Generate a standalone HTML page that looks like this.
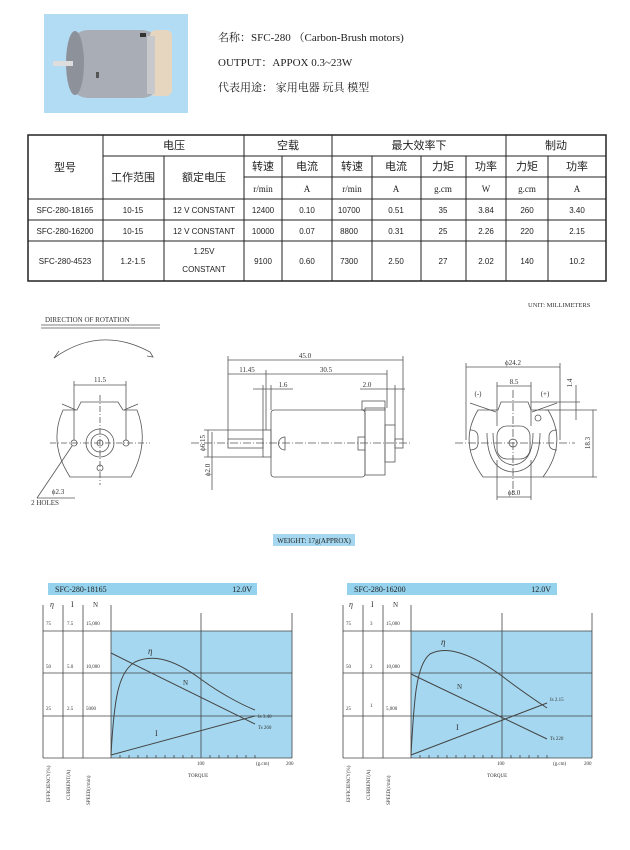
<!DOCTYPE html>
<html><head><meta charset="utf-8"><style>
html,body{margin:0;padding:0;background:#fff}
svg{display:block}
.s{font-family:"Liberation Serif","Noto Serif CJK SC",serif}
.a{font-family:"Liberation Sans","Noto Sans CJK SC",sans-serif}
</style></head><body>
<svg width="630" height="850" viewBox="0 0 630 850" xmlns="http://www.w3.org/2000/svg">
<!-- photo -->
<rect x="44" y="14" width="144" height="99" fill="#b2dcf3"/>
<rect x="70" y="30" width="90" height="68" rx="18" fill="#a9adb6"/>
<ellipse cx="75" cy="63" rx="9" ry="32" fill="#8d919a"/>
<rect x="150" y="30" width="22" height="66" rx="6" fill="#e6d6bf"/>
<rect x="147" y="36" width="8" height="58" fill="#c8c9cc"/>
<rect x="53" y="61" width="20" height="5" fill="#ddd"/>
<rect x="140" y="33" width="6" height="4" fill="#333"/>
<rect x="96" y="72" width="3" height="6" fill="#555"/>
<g class="s" font-size="11" fill="#222">
<text x="218" y="41">名称：SFC-280 （Carbon-Brush motors)</text>
<text x="218" y="66">OUTPUT：APPOX 0.3~23W</text>
<text x="218" y="91">代表用途：  家用电器 玩具 模型</text>
</g>
<!-- table -->
<g stroke="#222" stroke-width="1" fill="none">
<rect x="28" y="135" width="578" height="146" stroke-width="1.5"/>
<line x1="103" y1="156" x2="606" y2="156"/>
<line x1="244" y1="177" x2="606" y2="177"/>
<line x1="28" y1="199" x2="606" y2="199"/>
<line x1="28" y1="220" x2="606" y2="220"/>
<line x1="28" y1="241" x2="606" y2="241"/>
<line x1="103" y1="135" x2="103" y2="281"/>
<line x1="164" y1="156" x2="164" y2="281"/>
<line x1="244" y1="135" x2="244" y2="281"/>
<line x1="282" y1="156" x2="282" y2="281"/>
<line x1="332" y1="135" x2="332" y2="281"/>
<line x1="372" y1="156" x2="372" y2="281"/>
<line x1="421" y1="156" x2="421" y2="281"/>
<line x1="466" y1="156" x2="466" y2="281"/>
<line x1="506" y1="135" x2="506" y2="281"/>
<line x1="548" y1="156" x2="548" y2="281"/>
</g>
<g class="a" font-size="11" fill="#222" text-anchor="middle">
<text x="65" y="171">型号</text>
<text x="174" y="149">电压</text>
<text x="288" y="149">空载</text>
<text x="419" y="149">最大效率下</text>
<text x="556" y="149">制动</text>
<text x="133" y="181">工作范围</text>
<text x="204" y="181">额定电压</text>
<text x="263" y="170">转速</text><text x="307" y="170">电流</text>
<text x="352" y="170">转速</text><text x="396" y="170">电流</text>
<text x="443" y="170">力矩</text><text x="486" y="170">功率</text>
<text x="527" y="170">力矩</text><text x="577" y="170">功率</text>
</g>
<g class="s" font-size="9" fill="#222" text-anchor="middle">
<text x="263" y="192">r/min</text><text x="307" y="192">A</text>
<text x="352" y="192">r/min</text><text x="396" y="192">A</text>
<text x="443" y="192">g.cm</text><text x="486" y="192">W</text>
<text x="527" y="192">g.cm</text><text x="577" y="192">A</text>
</g>
<g class="a" font-size="8" fill="#222" text-anchor="middle">
<text x="65" y="213">SFC-280-18165</text><text x="133" y="213">10-15</text><text x="204" y="213">12 V CONSTANT</text>
<text x="263" y="213">12400</text><text x="307" y="213">0.10</text><text x="349" y="213">10700</text><text x="396" y="213">0.51</text><text x="443" y="213">35</text><text x="486" y="213">3.84</text><text x="527" y="213">260</text><text x="577" y="213">3.40</text>
<text x="65" y="234">SFC-280-16200</text><text x="133" y="234">10-15</text><text x="204" y="234">12 V CONSTANT</text>
<text x="263" y="234">10000</text><text x="307" y="234">0.07</text><text x="349" y="234">8800</text><text x="396" y="234">0.31</text><text x="443" y="234">25</text><text x="486" y="234">2.26</text><text x="527" y="234">220</text><text x="577" y="234">2.15</text>
<text x="65" y="264">SFC-280-4523</text><text x="133" y="264">1.2-1.5</text><text x="204" y="254">1.25V</text><text x="204" y="272">CONSTANT</text>
<text x="263" y="264">9100</text><text x="307" y="264">0.60</text><text x="349" y="264">7300</text><text x="396" y="264">2.50</text><text x="443" y="264">27</text><text x="486" y="264">2.02</text><text x="527" y="264">140</text><text x="577" y="264">10.2</text>
</g>

<!-- drawing -->
<g class="s" font-size="6.5" fill="#333">
<text x="528" y="307">UNIT: MILLIMETERS</text>
<text x="45" y="322" font-size="7">DIRECTION OF ROTATION</text>
</g>
<g stroke="#555" stroke-width="0.8" fill="none">
<line x1="41" y1="325" x2="160" y2="325"/><line x1="41" y1="328" x2="160" y2="328"/>
<path d="M54 358 Q100 325 150 352"/><path d="M54 358 l5 -7 M150 352 l3 5 l-6 -1"/>
<!-- left view -->
<path d="M81 402 L118 402 L123 410 L137 410 Q150 443 131 477 L70 477 Q48 443 63 410 L77 410 Z"/>
<path d="M62 404 L76 410 M138 404 L124 410"/>
<circle cx="100" cy="443" r="14"/><circle cx="100" cy="443" r="9"/><circle cx="100" cy="443" r="3"/>
<circle cx="74" cy="443" r="3"/><circle cx="126" cy="443" r="3"/><circle cx="100" cy="468" r="3"/>
<line x1="50" y1="443" x2="150" y2="443" stroke-dasharray="6 2 1 2"/>
<line x1="100" y1="395" x2="100" y2="485" stroke-dasharray="6 2 1 2"/>
<line x1="74" y1="385" x2="126" y2="385"/><line x1="74" y1="381" x2="74" y2="440"/><line x1="126" y1="381" x2="126" y2="440"/>
<line x1="72" y1="446" x2="37" y2="498"/><line x1="37" y1="498" x2="75" y2="498"/>
<!-- middle view -->
<rect x="271" y="410" width="94" height="67" rx="3"/>
<rect x="365" y="408" width="20" height="67"/>
<rect x="362" y="401" width="23" height="9"/>
<rect x="263" y="430" width="8" height="27"/>
<rect x="228" y="439" width="35" height="9"/>
<rect x="385" y="425" width="10" height="37"/>
<rect x="395" y="439" width="8" height="9"/>
<rect x="358" y="437" width="7" height="13"/>
<path d="M285 437 a6 6 0 0 0 0 13 Z"/>
<line x1="191" y1="443" x2="410" y2="443" stroke-dasharray="8 2 1 2"/>
<line x1="228" y1="360" x2="403" y2="360"/><line x1="228" y1="356" x2="228" y2="440"/><line x1="403" y1="356" x2="403" y2="440"/>
<line x1="228" y1="374" x2="387" y2="374"/><line x1="266" y1="370" x2="266" y2="430"/><line x1="387" y1="370" x2="387" y2="408"/>
<line x1="253" y1="389" x2="293" y2="389"/><line x1="263" y1="385" x2="263" y2="430"/><line x1="271" y1="385" x2="271" y2="410"/>
<line x1="360" y1="389" x2="405" y2="389"/><line x1="395" y1="385" x2="395" y2="425"/>
<line x1="208" y1="430" x2="208" y2="457"/><line x1="204" y1="430" x2="263" y2="430"/><line x1="204" y1="457" x2="263" y2="457"/>
<line x1="212" y1="432" x2="212" y2="490"/>
<!-- right view -->
<path d="M501 402 L528 402 L531 410 L548 410 Q568 443 543 477 L483 477 Q458 443 478 410 L498 410 Z"/>
<path d="M470 403 L496 412 M557 403 L532 412"/>
<rect x="497" y="426" width="33" height="33" rx="10"/><circle cx="513" cy="443" r="4"/>
<path d="M487 433 Q487 470 513 472 Q540 470 540 433"/><path d="M493 433 Q493 463 513 465 Q533 463 533 433"/>
<path d="M470 430 q8 0 8 7 v6 q0 7 -8 7"/><path d="M557 430 q-8 0 -8 7 v6 q0 7 8 7"/>
<circle cx="538" cy="418" r="3"/>
<line x1="455" y1="443" x2="575" y2="443" stroke-dasharray="8 2 1 2"/>
<line x1="513" y1="390" x2="513" y2="495" stroke-dasharray="8 2 1 2"/>
<line x1="466" y1="367" x2="560" y2="367"/><line x1="466" y1="363" x2="466" y2="440"/><line x1="560" y1="363" x2="560" y2="440"/>
<line x1="497" y1="386" x2="531" y2="386"/><line x1="497" y1="382" x2="497" y2="426"/><line x1="531" y1="382" x2="531" y2="426"/>
<line x1="497" y1="497" x2="531" y2="497"/><line x1="497" y1="460" x2="497" y2="500"/><line x1="531" y1="460" x2="531" y2="500"/>
<line x1="576" y1="385" x2="576" y2="420"/><line x1="531" y1="402" x2="580" y2="402"/><line x1="545" y1="410" x2="597" y2="410"/>
<line x1="593" y1="410" x2="593" y2="477"/><line x1="543" y1="477" x2="597" y2="477"/>
</g>
<g class="s" font-size="7" fill="#333" text-anchor="middle">
<text x="100" y="382">11.5</text>
<text x="305" y="358">45.0</text>
<text x="247" y="372">11.45</text><text x="326" y="372">30.5</text>
<text x="283" y="387">1.6</text><text x="367" y="387">2.0</text>
<text x="513" y="365">ϕ24.2</text><text x="514" y="384">8.5</text>
<text x="478" y="396">(-)</text><text x="545" y="396">(+)</text>
<text x="514" y="495">ϕ8.0</text>
<text x="58" y="494">ϕ2.3</text><text x="45" y="505">2 HOLES</text>
<text transform="translate(205,443) rotate(-90)">ϕ6.15</text>
<text transform="translate(210,470) rotate(-90)">ϕ2.0</text>
<text transform="translate(572,383) rotate(-90)">1.4</text>
<text transform="translate(590,443) rotate(-90)">18.3</text>
</g>
<rect x="273" y="534" width="82" height="12" fill="#a5d8f0"/>
<text x="314" y="543" class="s" font-size="7" text-anchor="middle" fill="#222">WEIGHT: 17g(APPROX)</text>

<!-- chart 1 -->
<g>
<rect x="48" y="583" width="209" height="12" fill="#94d2ee"/>
<text x="55" y="592" class="s" font-size="8" fill="#222">SFC-280-18165</text>
<text x="252" y="592" class="s" font-size="8" fill="#222" text-anchor="end">12.0V</text>
<rect x="111" y="631" width="181" height="127" fill="#a5d8f0"/>
<g stroke="#444" stroke-width="0.8" fill="none">
<line x1="43" y1="605" x2="43" y2="758"/><line x1="63" y1="605" x2="63" y2="758"/><line x1="83" y1="605" x2="83" y2="758"/><line x1="111" y1="605" x2="111" y2="758"/>
<line x1="292" y1="613" x2="292" y2="758"/><line x1="201" y1="613" x2="201" y2="758"/>
<line x1="43" y1="631" x2="292" y2="631"/><line x1="43" y1="673" x2="292" y2="673"/><line x1="43" y1="716" x2="292" y2="716"/><line x1="43" y1="758" x2="292" y2="758"/>
<path d="M111 758 M120 758v-3M129 758v-3M138 758v-3M147 758v-3M156 758v-3M165 758v-3M174 758v-3M183 758v-3M192 758v-3M210 758v-3M219 758v-3M228 758v-3M237 758v-3M246 758v-3M255 758v-3"/>
<path d="M111 653 L255 724" stroke-width="1"/>
<path d="M111 755 L255 716" stroke-width="1"/>
<path d="M111 755 C114 700 118 672 135 662 C150 655 170 656 202 680 C220 693 240 704 255 710" stroke-width="1"/>
</g>
<g class="s" font-size="5" fill="#333">
<text x="50" y="607" font-size="8" font-style="italic">η</text><text x="71" y="607" font-size="8">I</text><text x="93" y="607" font-size="7">N</text>
<text x="46" y="625">75</text><text x="67" y="625">7.5</text><text x="86" y="625">15,000</text>
<text x="46" y="668">50</text><text x="67" y="668">5.0</text><text x="86" y="668">10,000</text>
<text x="46" y="710">25</text><text x="67" y="710">2.5</text><text x="86" y="710">5000</text>
<text x="148" y="654" font-size="9" font-style="italic">η</text><text x="183" y="685" font-size="7">N</text><text x="155" y="736" font-size="8">I</text>
<text x="258" y="718">Is 3.40</text><text x="258" y="729">Ts 260</text>
<text x="197" y="765">100</text><text x="256" y="765">(g.cm)</text><text x="286" y="765">200</text>
<text x="188" y="777">TORQUE</text>
<text transform="translate(50,802) rotate(-90)">EFFICIENCY(%)</text>
<text transform="translate(70,800) rotate(-90)">CURRENT(A)</text>
<text transform="translate(90,805) rotate(-90)">SPEED(r/min)</text>
</g>
</g>

<!-- chart 2 -->
<g>
<rect x="347" y="583" width="210" height="12" fill="#94d2ee"/>
<text x="354" y="592" class="s" font-size="8" fill="#222">SFC-280-16200</text>
<text x="551" y="592" class="s" font-size="8" fill="#222" text-anchor="end">12.0V</text>
<rect x="411" y="631" width="181" height="127" fill="#a5d8f0"/>
<g stroke="#444" stroke-width="0.8" fill="none">
<line x1="343" y1="605" x2="343" y2="758"/><line x1="363" y1="605" x2="363" y2="758"/><line x1="383" y1="605" x2="383" y2="758"/><line x1="411" y1="605" x2="411" y2="758"/>
<line x1="592" y1="613" x2="592" y2="758"/><line x1="502" y1="613" x2="502" y2="758"/>
<line x1="343" y1="631" x2="592" y2="631"/><line x1="343" y1="673" x2="592" y2="673"/><line x1="343" y1="716" x2="592" y2="716"/><line x1="343" y1="758" x2="592" y2="758"/>
<path d="M420 758v-3M429 758v-3M438 758v-3M447 758v-3M456 758v-3M465 758v-3M474 758v-3M483 758v-3M492 758v-3M511 758v-3M520 758v-3M529 758v-3M538 758v-3M547 758v-3"/>
<path d="M411 674 L547 739" stroke-width="1"/>
<path d="M411 755 L547 703" stroke-width="1"/>
<path d="M411 755 C414 700 416 665 430 654 C450 643 480 660 502 676 C520 690 535 700 547 708" stroke-width="1"/>
</g>
<g class="s" font-size="5" fill="#333">
<text x="349" y="607" font-size="8" font-style="italic">η</text><text x="371" y="607" font-size="8">I</text><text x="393" y="607" font-size="7">N</text>
<text x="346" y="625">75</text><text x="370" y="625">3</text><text x="386" y="625">15,000</text>
<text x="346" y="668">50</text><text x="370" y="668">2</text><text x="386" y="668">10,000</text>
<text x="346" y="710">25</text><text x="370" y="707">1</text><text x="386" y="710">5,000</text>
<text x="441" y="645" font-size="9" font-style="italic">η</text><text x="457" y="689" font-size="7">N</text><text x="456" y="730" font-size="8">I</text>
<text x="550" y="701">Is 2.15</text><text x="550" y="740">Ts 220</text>
<text x="497" y="765">100</text><text x="553" y="765">(g.cm)</text><text x="584" y="765">200</text>
<text x="487" y="777">TORQUE</text>
<text transform="translate(350,802) rotate(-90)">EFFICIENCY(%)</text>
<text transform="translate(370,800) rotate(-90)">CURRENT(A)</text>
<text transform="translate(390,805) rotate(-90)">SPEED(r/min)</text>
</g>
</g>
</svg>
</body></html>
